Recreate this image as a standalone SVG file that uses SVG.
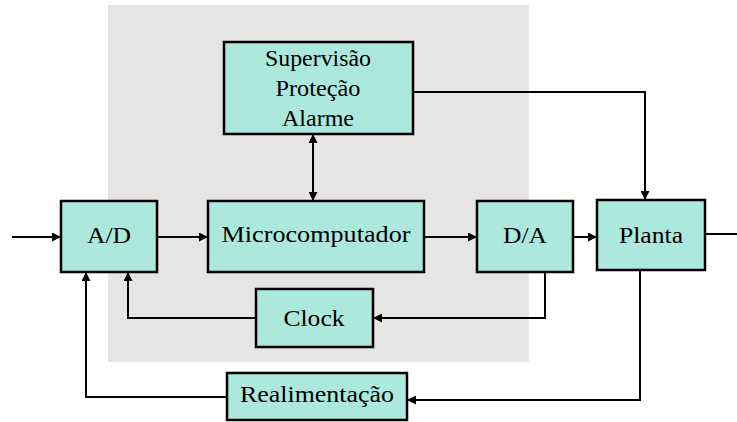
<svg xmlns="http://www.w3.org/2000/svg" width="737" height="422" viewBox="0 0 737 422">
  <style>
    .box { fill: #ade8dc; stroke: #000; stroke-width: 2.5; }
    .lbl { font-family: "Liberation Serif", "Times New Roman", serif; font-size: 23px; fill: #000; text-anchor: middle; }
    .wire { fill: none; stroke: #000; stroke-width: 2; }
  </style>
  <defs>
    <marker id="arrow" viewBox="0 0 10 10" refX="10" refY="5" markerWidth="9" markerHeight="9" markerUnits="userSpaceOnUse" orient="auto-start-reverse">
      <path d="M0,0 L10,5 L0,10 z" fill="#000"/>
    </marker>
  </defs>

  <!-- shaded computer area -->
  <rect id="computer-area" x="108" y="5" width="421" height="357" fill="#e5e5e5"/>

  <g id="connectors">
    <path class="wire" d="M12,237 H61" marker-end="url(#arrow)"/>
    <path class="wire" d="M157,237 H208" marker-end="url(#arrow)"/>
    <path class="wire" d="M424,237 H477" marker-end="url(#arrow)"/>
    <path class="wire" d="M573,237 H597" marker-end="url(#arrow)"/>
    <path class="wire" d="M705,234 H737"/>
    <path class="wire" d="M413,92 H645 V200" marker-end="url(#arrow)"/>
    <path class="wire" d="M313,134 V201" marker-start="url(#arrow)" marker-end="url(#arrow)"/>
    <path class="wire" d="M545,272 V318 H373" marker-end="url(#arrow)"/>
    <path class="wire" d="M256,318 H128 V272" marker-end="url(#arrow)"/>
    <path class="wire" d="M640,270 V400 H407" marker-end="url(#arrow)"/>
    <path class="wire" d="M227,397 H86 V272" marker-end="url(#arrow)"/>
  </g>

  <g id="supervisao">
    <rect class="box" x="224" y="42" width="189" height="92"/>
    <text class="lbl" x="318" y="66" textLength="106" lengthAdjust="spacingAndGlyphs">Supervisão</text>
    <text class="lbl" x="318" y="96" textLength="85" lengthAdjust="spacingAndGlyphs">Proteção</text>
    <text class="lbl" x="318" y="126" textLength="72" lengthAdjust="spacingAndGlyphs">Alarme</text>
  </g>

  <g id="ad">
    <rect class="box" x="61" y="201" width="96" height="71"/>
    <text class="lbl" x="109" y="243" textLength="44" lengthAdjust="spacingAndGlyphs">A/D</text>
  </g>

  <g id="microcomputador">
    <rect class="box" x="208" y="201" width="216" height="71"/>
    <text class="lbl" x="316" y="242" textLength="189" lengthAdjust="spacingAndGlyphs">Microcomputador</text>
  </g>

  <g id="da">
    <rect class="box" x="477" y="201" width="96" height="71"/>
    <text class="lbl" x="525" y="243" textLength="44" lengthAdjust="spacingAndGlyphs">D/A</text>
  </g>

  <g id="planta">
    <rect class="box" x="597" y="200" width="108" height="70"/>
    <text class="lbl" x="651" y="243" textLength="64" lengthAdjust="spacingAndGlyphs">Planta</text>
  </g>

  <g id="clock">
    <rect class="box" x="256" y="289" width="117" height="58"/>
    <text class="lbl" x="314" y="326" textLength="61" lengthAdjust="spacingAndGlyphs">Clock</text>
  </g>

  <g id="realimentacao">
    <rect class="box" x="227" y="373" width="180" height="47"/>
    <text class="lbl" x="317" y="402" textLength="154" lengthAdjust="spacingAndGlyphs">Realimentação</text>
  </g>
</svg>
